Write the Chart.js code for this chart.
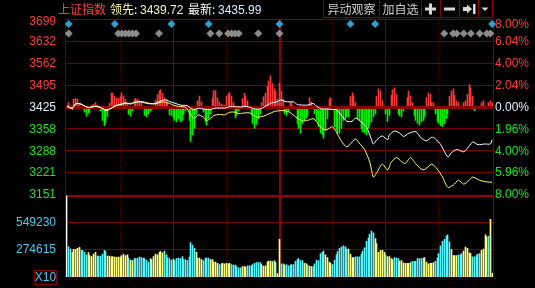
<!DOCTYPE html>
<html>
<head>
<meta charset="utf-8">
<script src="https://cdn.jsdelivr.net/npm/chart.js@4.4.1/dist/chart.umd.min.js"></script>
<style>
html,body{margin:0;padding:0;background:#000;overflow:hidden}
canvas{display:block}
</style>
</head>
<body>
<canvas id="c" width="535" height="288"></canvas>
<script>

/* Data */

const prevClose = 3425;

const leftTicks = ["3151","3221","3288","3358","3425","3495","3562","3632","3699"];
const rightTicks = ["8.00%","5.96%","4.00%","1.96%","0.00%","2.04%","4.00%","6.04%","8.00%"];
const volTicks = [274615, 549230];

// index line (white), minute / value
const whiteT = [0,3,5,7,9,12,15,17,20,22,25,27,30,33,36,38,42,45,49,51,54,56,58,61,64,68,70,72,74,78,81,83,86,89,92,95,98,101,104,106,109,112,115,118,121,123,126,128,130,133,136,139,141,144,147,150,152,155,158,161,163,166,169,172,173,175,178,181,182,185,188,190,193,197,200,203,206,208,211,215,217,220,224,227,229,232,236,239,240];
const whiteV = [3429.0,3421.9,3434.1,3436.2,3431.1,3423.0,3426.0,3427.0,3420.9,3413.8,3420.9,3429.0,3433.1,3438.2,3434.1,3439.2,3441.2,3436.2,3435.1,3439.2,3446.3,3447.3,3442.2,3437.0,3431.1,3429.0,3420.9,3416.9,3420.9,3417.9,3416.9,3420.9,3421.9,3421.9,3426.0,3426.0,3425.0,3427.0,3423.0,3418.9,3418.9,3427.0,3437.2,3440.2,3447.3,3442.2,3441.2,3441.2,3433.1,3431.1,3431.1,3436.2,3427.0,3418.9,3418.9,3416.9,3416.9,3398.6,3380.3,3380.3,3390.5,3378.3,3363.1,3322.5,3309.3,3322.5,3334.7,3322.5,3337.7,3349.9,3342.8,3332.7,3342.8,3347.9,3327.6,3319.5,3330.6,3325.5,3307.3,3268.7,3281.9,3292.1,3285.0,3302.2,3315.4,3307.3,3309.3,3309.3,3322.5];

// leading line (yellow)
const yellowT = [0,3,5,8,12,16,19,22,25,28,33,37,40,43,47,50,54,58,60,63,67,70,72,74,77,79,81,83,86,89,92,95,97,99,103,106,108,111,114,117,119,122,125,127,130,133,136,139,141,144,146,149,150,152,155,158,161,163,165,168,171,173,175,178,181,183,186,189,191,194,197,201,204,206,209,212,215,218,221,224,227,229,233,237,240];
const yellowV = [3426.0,3420.9,3436.2,3434.1,3424.0,3427.0,3424.0,3415.9,3420.9,3429.0,3436.2,3437.2,3442.3,3441.2,3436.2,3435.1,3441.2,3436.2,3431.1,3427.0,3424.0,3400.6,3388.5,3400.6,3393.5,3383.4,3388.5,3398.6,3401.7,3400.6,3408.8,3408.8,3404.7,3405.7,3406.7,3396.6,3393.5,3396.6,3403.7,3410.8,3412.8,3413.8,3410.8,3403.7,3390.5,3381.4,3383.4,3388.5,3378.3,3358.0,3353.0,3361.1,3363.1,3347.9,3317.4,3300.2,3315.4,3324.5,3312.4,3292.1,3251.5,3205.8,3221.0,3246.4,3228.1,3251.5,3266.7,3253.5,3248.4,3266.7,3246.4,3228.1,3238.3,3246.4,3231.2,3205.8,3173.3,3180.4,3195.7,3183.5,3195.7,3205.8,3195.7,3190.6,3189.6];

// red / green power bars, one per minute (0 = none)
const rgPower = [
0,4.7,1.3,-2.7,8,9,8,3.7,0,-2,
-5.3,-9.7,-6.3,-5.3,2,3,4.7,2,0,-3.7,
-13.7,-19.3,-16.3,-10.3,4,14,14.7,11.3,9,9,
10.7,14.7,11.3,8,3.7,-7.7,-9.3,-3.7,7.3,9,
8,6.3,4.7,0,-8.7,-10.3,-7,-4.3,-2.7,-2,
7,13,16.3,18,14,9.7,8,4.7,-8,-8.7,
-11,-13.7,-15.3,-12,-15.3,-13.7,-7,-3.7,0,-13.7,
-35.3,-28.7,-22,-7,6.3,11.3,5.3,-5.3,-15.3,-18.7,
-12,-7,8.7,17,17,9.7,4.7,3,2,2,
11.3,13.7,14.7,11.3,4.7,-11.3,-8.7,-3.7,0,8.7,
14,11.3,6.3,0,-7,-17,-22,-18,-12,-7,
4.7,10.7,14,21.3,27,32,24,18.7,16.3,8,
24.7,16.3,8,-7,-8.7,-5,4.7,4.7,0,0,
-17,-22,-27,-17,-13.7,-11.3,-8.7,9.7,5.3,0,
-7,-13.7,-20.3,-27,-28.7,-32,-23.7,-12,8,9.7,
0,-20.3,-23.7,-27,-27,-22,-13.7,-12,-10.3,-10.3,
10.7,14.7,11.3,4.7,-12,-13.7,-22,-25.3,-27,-28.7,
-22,-18.7,-15.3,-10.3,-7,11.3,18.7,16.3,6.3,0,
-7,-14.7,-8.7,12,18,19.7,13,-7,-9,-10.3,
-4,0,9.7,16.3,11.3,4.7,-8.7,-13.7,-17,-18.7,
-15.3,-13.7,-10.3,9.7,14.7,13,4.7,4.7,-7,-14.7,
-17,-19.3,-20.3,-17,-12,-7,11.3,16.3,18.7,12,
6.3,4.7,0,-1.3,4.7,6.3,13,23,19.7,11.3,
-3.7,-1.3,0,0,4.7,6.3,-1.3,0,4.7,6.3,
4.7];

// volume per minute
const vol = [
809000,
302000,279000,247000,276000,276000,286000,296000,267000,267000,247000,
221000,244000,215000,205000,228000,247000,208000,208000,208000,228000,
267000,254000,208000,208000,202000,205000,199000,199000,199000,199000,
215000,228000,215000,221000,189000,170000,163000,183000,183000,186000,
199000,195000,189000,183000,166000,150000,183000,173000,205000,228000,
221000,247000,254000,241000,260000,221000,195000,183000,166000,179000,
163000,183000,189000,183000,205000,173000,173000,163000,199000,344000,
318000,286000,247000,189000,189000,173000,163000,189000,189000,189000,
173000,173000,150000,150000,137000,124000,131000,137000,131000,137000,
131000,137000,124000,118000,118000,105000,92000,92000,105000,105000,
99000,111000,111000,111000,124000,137000,144000,144000,144000,124000,
108000,111000,150000,160000,160000,153000,163000,147000,34000,376000,
131000,131000,118000,124000,111000,118000,124000,124000,157000,173000,
183000,163000,163000,137000,131000,118000,108000,105000,105000,131000,
170000,163000,234000,247000,260000,221000,195000,150000,137000,124000,
170000,221000,254000,286000,302000,312000,302000,279000,279000,228000,
195000,195000,202000,202000,202000,228000,260000,292000,357000,389000,
428000,460000,441000,383000,334000,247000,267000,267000,247000,221000,
205000,205000,183000,173000,195000,189000,183000,157000,163000,141000,
137000,137000,137000,144000,157000,157000,157000,183000,183000,183000,
189000,195000,150000,131000,137000,137000,144000,157000,189000,234000,
312000,357000,376000,409000,422000,351000,273000,215000,215000,215000,
221000,221000,234000,260000,299000,286000,241000,234000,202000,202000,
215000,228000,234000,267000,279000,422000,402000,409000,577000,40000];

// 0 = opening auction, 1 = up minute, -1 = down minute
const volDir = [
0,
-1,-1,1,1,1,1,1,-1,-1,-1,
-1,1,1,1,1,1,-1,-1,-1,-1,
-1,-1,1,1,1,1,1,1,1,1,
1,1,1,1,-1,1,1,-1,-1,-1,
-1,-1,-1,-1,-1,-1,-1,1,1,1,
1,1,1,1,-1,-1,-1,-1,-1,1,
-1,-1,-1,-1,-1,-1,-1,-1,-1,-1,
-1,-1,1,1,1,1,-1,-1,-1,-1,
1,1,1,1,1,-1,-1,1,1,1,
1,1,-1,-1,-1,-1,-1,-1,1,1,
1,-1,-1,-1,-1,-1,-1,-1,-1,1,
1,1,1,1,1,1,-1,1,1,1,
-1,-1,1,-1,-1,-1,-1,-1,-1,-1,
-1,-1,-1,1,1,-1,1,1,-1,-1,
-1,-1,-1,-1,-1,1,1,1,1,-1,
-1,-1,-1,-1,-1,-1,-1,-1,1,1,
1,1,-1,-1,-1,-1,-1,-1,-1,-1,
-1,-1,-1,1,1,1,1,1,1,-1,
1,1,1,1,-1,-1,-1,1,1,1,
1,1,1,1,-1,-1,-1,-1,-1,-1,
-1,1,1,1,1,1,1,-1,-1,-1,
-1,-1,-1,-1,-1,-1,1,1,1,1,
-1,-1,-1,1,1,1,1,1,-1,-1,
-1,-1,-1,1,1,1,1,-1,1,1];

// event markers (minute of day)
const blueMarks = [1,27,59,80,120,160,174,240];
const greyMarks = [1,29,31,33,35,37,39,52,81,86,91,93,95,97,108,120,213,218,220,224,228,233,237,239];


/* Styles */

const GRID = "#7a0000";
const RED = "#ff3c3c";
const GREEN = "#22e022";
const WHITE_LBL = "#e4eeff";
const CYAN = "#48c8ee";
const NUM_FONT = '12px Arial, "Liberation Sans", sans-serif';
const CJK_FONT = '12px "Noto Sans CJK SC", "Noto Sans", sans-serif';

const minutes = vol.map((_, i) => i);
const rgUnit = 3.04;


/* Drawing helpers for grid, labels and header */

function hline(c, x1, x2, y){
c.beginPath(); c.moveTo(x1, y); c.lineTo(x2, y); c.stroke();
}

function vline(c, x, y1, y2){
c.beginPath(); c.moveTo(x, y1); c.lineTo(x, y2); c.stroke();
}

const decor = {
id: "decor",

beforeDraw(chart){
const c = chart.ctx;
c.save();
c.fillStyle = "#000";
c.fillRect(0, 0, chart.width, chart.height);
c.restore();

// keep the 1px bars on whole pixel columns
chart.data.datasets.forEach((ds, i) => {
const meta = chart.getDatasetMeta(i);
if(meta.type !== "bar") return;
meta.data.forEach(el => { el.x = Math.floor(el.x) + 0.5; });
});
},

beforeDatasetsDraw(chart){
const c = chart.ctx, a = chart.chartArea;
const y = chart.scales.y, yv = chart.scales.yVol, x = chart.scales.x;
c.save();
c.strokeStyle = GRID;
c.lineWidth = 1;

for(let i = 1; i < 9; i++){
if(i === 4) continue;
const py = Math.floor(y.getPixelForValue(y.min + i*(y.max - y.min)/8)) + 0.5;
hline(c, a.left, a.right, py);
}
volTicks.forEach(v => {
hline(c, a.left, a.right, Math.floor(yv.getPixelForValue(v)) + 0.5);
});
hline(c, a.left, a.right, Math.floor(a.bottom) - 0.5);

// half hour lines
[30, 60, 90, 120, 150, 180, 210].forEach(m => {
const px = x.getPixelForValue(m);
if(m === 120){
c.save();
c.strokeStyle = "#8e0000";
c.lineWidth = 2;
vline(c, Math.round(px), a.top, a.bottom);
c.restore();
}
else if(m % 60 === 0){
vline(c, Math.floor(px) + 0.5, a.top, a.bottom);
}
else{
c.save();
c.setLineDash([1, 2]);
vline(c, Math.floor(px) + 0.5, a.top, a.bottom);
c.restore();
}
});

vline(c, Math.floor(a.left) - 0.5, a.top, a.bottom);
vline(c, Math.floor(a.right) + 0.5, a.top, a.bottom);

// separator between price and volume panes
c.strokeStyle = "#960000";
c.lineWidth = 2;
hline(c, a.left, a.right, Math.round(y.bottom) + 1);
c.restore();
},

afterDatasetDraw(chart, args){
// zero line sits over the power bars, under the two lines
if(args.index !== 1) return;
const c = chart.ctx, a = chart.chartArea;
const py = Math.round(chart.scales.y.getPixelForValue(prevClose));
c.save();
c.fillStyle = "#8a0000";
c.fillRect(a.left, py - 1, a.right - a.left, 3);
c.restore();
},

afterDraw(chart){
const c = chart.ctx;
const y = chart.scales.y, yv = chart.scales.yVol;
c.save();

/* axis labels */
c.font = NUM_FONT;
c.textBaseline = "middle";
for(let i = 0; i < 9; i++){
const py = y.getPixelForValue(y.min + i*(y.max - y.min)/8);
const col = i < 4 ? GREEN : (i === 4 ? WHITE_LBL : RED);
c.fillStyle = col;
c.textAlign = "right";
c.fillText(leftTicks[i], 56, Math.max(py, 21) + 0.5);
c.textAlign = "left";
c.fillText(rightTicks[i], 495, Math.max(py, 24) + 0.5);
}
c.fillStyle = CYAN;
c.textAlign = "right";
volTicks.forEach(v => {
c.fillText(String(v), 56, yv.getPixelForValue(v) + 0.5);
});

// X10 box
c.strokeStyle = "#8a0000";
c.lineWidth = 1;
c.strokeRect(34.5, 270.5, 22, 14);
c.fillStyle = CYAN;
c.textAlign = "center";
c.fillText("X10", 45.5, 278);

/* header */
c.textAlign = "left";
c.textBaseline = "alphabetic";
c.font = CJK_FONT;
c.fillStyle = RED;
c.fillText("上证指数", 58, 13.5);
c.fillStyle = "#ffff88";
c.fillText("领先:", 110, 13.5);
c.fillStyle = "#ffffff";
c.fillText("最新:", 188, 13.5);
c.font = NUM_FONT;
c.fillStyle = "#f4f4c0";
c.fillText("3439.72", 140, 13.5);
c.fillStyle = "#dcecff";
c.fillText("3435.99", 218, 13.5);

// buttons
c.strokeStyle = "#8a0000";
[323.5, 379.5, 421.5, 440.5, 459.5, 478.5, 492.5].forEach(bx => vline(c, bx, 0, 18));
hline(c, 323, 493, 17.5);
c.font = CJK_FONT;
c.fillStyle = "#cfcfcf";
c.textAlign = "center";
c.fillText("异动观察", 351.5, 14);
c.fillText("加自选", 400.5, 14);

c.fillStyle = "#d8d8d8";
c.fillRect(425, 7.5, 11, 3);
c.fillRect(429, 3.5, 3, 11);
c.fillRect(444, 7.5, 11, 3);
c.beginPath();
c.moveTo(463, 7); c.lineTo(467, 7); c.lineTo(467, 4.5); c.lineTo(472, 9);
c.lineTo(467, 13.5); c.lineTo(467, 11); c.lineTo(463, 11); c.closePath();
c.fill();
c.fillRect(473, 4, 2.5, 10);
c.beginPath();
c.moveTo(481.5, 7.5); c.lineTo(488.5, 7.5); c.lineTo(485, 11); c.closePath();
c.fill();

c.restore();
}
};


/* Chart */

const rowBlue = 3685;
const rowGrey = 3655;

new Chart(document.getElementById("c"), {
type: "bar",
data: {
labels: minutes,
datasets: [
{
label: "volume",
data: vol,
yAxisID: "yVol",
barThickness: 1,
grouped: false,
order: 5,
backgroundColor: ctx => {
const d = volDir[ctx.dataIndex];
return d === 0 ? "#ffffff" : (d > 0 ? "#ffff80" : "#55f6ff");
}
},
{
label: "power",
data: rgPower.map(v => v === 0 ? null : prevClose + v*rgUnit),
base: prevClose,
yAxisID: "y",
barThickness: 1,
grouped: false,
order: 4,
backgroundColor: ctx => rgPower[ctx.dataIndex] > 0 ? "#ff3636" : "#00f000"
},
{
type: "line",
label: "leading",
data: yellowT.map((t, i) => ({x: t, y: yellowV[i]})),
yAxisID: "y",
borderColor: "#ffff70",
borderWidth: 1,
pointRadius: 0,
tension: 0.25,
order: 3
},
{
type: "line",
label: "index",
data: whiteT.map((t, i) => ({x: t, y: whiteV[i]})),
yAxisID: "y",
borderColor: "#ffffff",
borderWidth: 1,
pointRadius: 0,
tension: 0.25,
order: 2
},
{
type: "scatter",
label: "grey marks",
data: greyMarks.map(m => ({x: m, y: rowGrey})),
yAxisID: "y",
pointStyle: "rectRot",
pointRadius: 4,
borderWidth: 0,
backgroundColor: "#8c8c8c",
clip: false,
order: 1
},
{
type: "scatter",
label: "blue marks",
data: blueMarks.map(m => ({x: m, y: rowBlue})),
yAxisID: "y",
pointStyle: "rectRot",
pointRadius: 4,
borderWidth: 0,
backgroundColor: "#2f9fd2",
clip: false,
order: 0
}
]
},
options: {
responsive: false,
animation: false,
devicePixelRatio: 1,
events: [],
layout: {padding: {left: 58, right: 42, top: 19.5, bottom: 3}},
plugins: {legend: {display: false}, tooltip: {enabled: false}},
scales: {
x: {
type: "linear", min: -0.5, max: 240.5, offset: false,
grid: {display: false}, ticks: {display: false}, border: {display: false}
},
y: {
type: "linear", position: "left", stack: "panes", stackWeight: 180.5, weight: 2,
min: prevClose*0.92, max: prevClose*1.08,
grid: {display: false}, ticks: {display: false}, border: {display: false}
},
yVol: {
type: "linear", position: "left", stack: "panes", stackWeight: 85, weight: 1,
min: 0, max: volTicks[0]*3,
grid: {display: false}, ticks: {display: false}, border: {display: false}
}
}
},
plugins: [decor]
});

</script>
</body>
</html>
